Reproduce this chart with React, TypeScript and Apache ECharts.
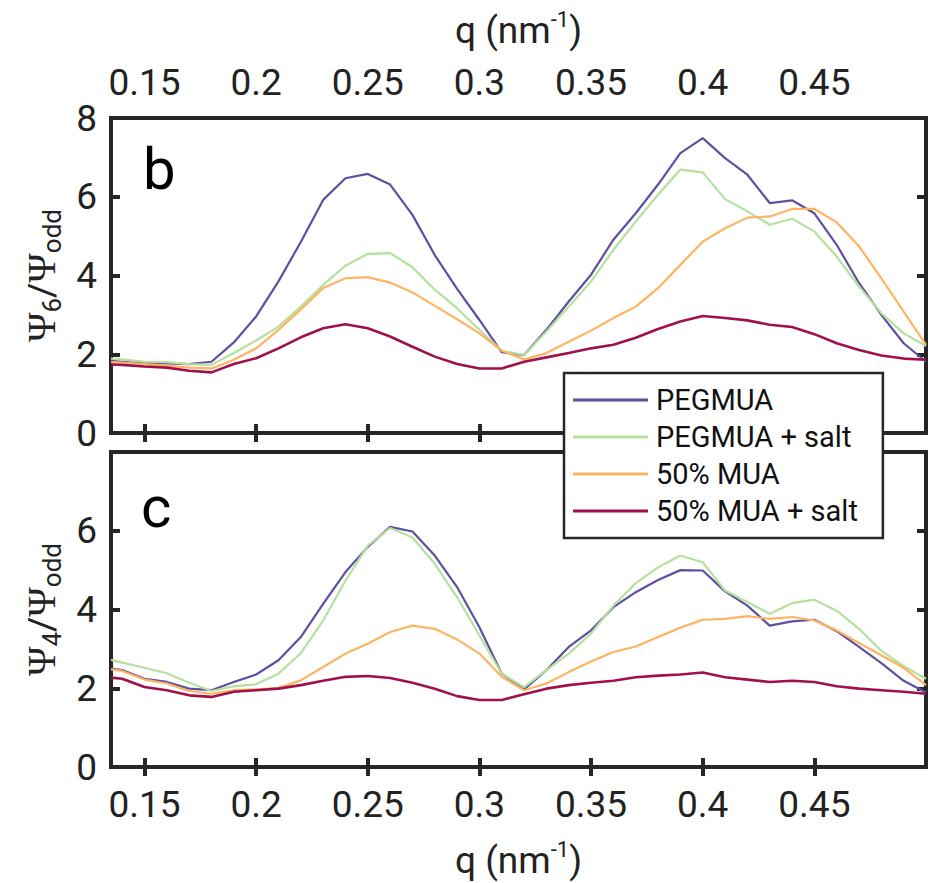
import React, { useEffect, useRef } from "react";
import * as echarts from "echarts";

// q values (nm^-1)
const q = [0.135, 0.14, 0.15, 0.16, 0.17, 0.18, 0.19, 0.2, 0.21, 0.22, 0.23, 0.24, 0.25, 0.26, 0.27, 0.28, 0.29, 0.3, 0.31,
  0.32, 0.33, 0.34, 0.35, 0.36, 0.37, 0.38, 0.39, 0.4, 0.41, 0.42, 0.43, 0.44, 0.45, 0.46, 0.47, 0.48, 0.49, 0.5];

const seriesNames = ["PEGMUA", "PEGMUA + salt", "50% MUA", "50% MUA + salt"];
const colors = ["#5E4FA2", "#B5E09E", "#FDB462", "#A0104A"];

// Panel b: Psi6 / Psi_odd
const b_pegmua = [1.83, 1.81, 1.77, 1.77, 1.75, 1.81, 2.3, 2.96, 3.85, 4.85, 5.92, 6.47, 6.58, 6.31, 5.54, 4.52, 3.66, 2.87, 2.05,
  1.98, 2.62, 3.34, 4.02, 4.91, 5.58, 6.31, 7.11, 7.49, 6.98, 6.56, 5.84, 5.91, 5.58, 4.78, 3.81, 3.0, 2.28, 1.81];
const b_pegmuaSalt = [1.89, 1.87, 1.81, 1.8, 1.75, 1.73, 2.03, 2.35, 2.7, 3.21, 3.76, 4.25, 4.55, 4.57, 4.21, 3.64, 3.17, 2.62, 2.09,
  1.98, 2.58, 3.21, 3.85, 4.65, 5.37, 6.05, 6.69, 6.62, 5.94, 5.63, 5.29, 5.44, 5.12, 4.48, 3.72, 3.04, 2.53, 2.21];
const b_mua = [1.8, 1.79, 1.75, 1.71, 1.66, 1.64, 1.86, 2.15, 2.62, 3.14, 3.68, 3.93, 3.96, 3.82, 3.57, 3.23, 2.89, 2.53, 2.09,
  1.87, 2.03, 2.32, 2.6, 2.92, 3.21, 3.68, 4.27, 4.86, 5.2, 5.47, 5.5, 5.69, 5.69, 5.35, 4.74, 3.93, 3.08, 2.24];
const b_muaSalt = [1.74, 1.73, 1.69, 1.66, 1.58, 1.54, 1.75, 1.9, 2.15, 2.43, 2.66, 2.76, 2.66, 2.45, 2.19, 1.94, 1.75, 1.64, 1.64,
  1.81, 1.92, 2.03, 2.15, 2.24, 2.42, 2.64, 2.83, 2.97, 2.92, 2.86, 2.75, 2.69, 2.51, 2.28, 2.11, 1.97, 1.89, 1.86];

// Panel c: Psi4 / Psi_odd
const c_pegmua = [2.5, 2.46, 2.24, 2.16, 1.99, 1.95, 2.16, 2.35, 2.71, 3.3, 4.14, 4.95, 5.59, 6.1, 5.98, 5.37, 4.57, 3.55, 2.37,
  1.97, 2.46, 3.05, 3.47, 4.06, 4.44, 4.75, 5.0, 4.99, 4.46, 4.1, 3.59, 3.7, 3.74, 3.45, 3.05, 2.64, 2.19, 1.89];
const c_pegmuaSalt = [2.72, 2.65, 2.52, 2.38, 2.14, 1.93, 2.05, 2.1, 2.37, 2.89, 3.72, 4.73, 5.62, 6.07, 5.83, 5.16, 4.31, 3.34, 2.37,
  2.03, 2.46, 2.88, 3.39, 4.1, 4.67, 5.07, 5.37, 5.2, 4.48, 4.19, 3.89, 4.16, 4.25, 3.97, 3.51, 2.95, 2.56, 2.24];
const c_mua = [2.48, 2.44, 2.22, 2.12, 1.93, 1.86, 1.95, 1.97, 2.01, 2.2, 2.54, 2.88, 3.13, 3.43, 3.59, 3.51, 3.24, 2.88, 2.29,
  1.95, 2.12, 2.41, 2.68, 2.92, 3.06, 3.3, 3.54, 3.74, 3.76, 3.83, 3.76, 3.81, 3.72, 3.47, 3.15, 2.84, 2.52, 2.08];
const c_muaSalt = [2.27, 2.24, 2.03, 1.95, 1.82, 1.78, 1.91, 1.95, 1.99, 2.08, 2.19, 2.29, 2.31, 2.26, 2.14, 1.99, 1.8, 1.7, 1.7,
  1.85, 1.99, 2.08, 2.14, 2.19, 2.28, 2.32, 2.35, 2.4, 2.28, 2.22, 2.16, 2.19, 2.16, 2.05, 1.99, 1.95, 1.91, 1.86];

const xTicks = [0.15, 0.2, 0.25, 0.3, 0.35, 0.4, 0.45];
const yTicksTop = [0, 2, 4, 6, 8];
const yTicksBottom = [0, 2, 4, 6];
const xTitle = ["q (nm", "-1", ")"];
const yTitleB = ["Ψ", "6", "/", "Ψ", "odd"];
const yTitleC = ["Ψ", "4", "/", "Ψ", "odd"];
const panelLetters = ["b", "c"];

const FRAME = "#262626";
const FONT = "Roboto";

export default function App() {
  const ref = useRef<HTMLDivElement>(null);

  useEffect(() => {
    if (!ref.current) return;
    const chart = echarts.init(ref.current, null, { renderer: "svg" });

    const tickStyle = { show: true, inside: true, length: 9, lineStyle: { color: FRAME, width: 4 } };
    const xTickCfg = { ...tickStyle, customValues: xTicks };
    const labelStyle = { fontSize: 37, fontFamily: FONT, color: "#222" };

    const xTitleRich = `{a|${xTitle[0]}}{s|${xTitle[1]}}{a|${xTitle[2]}}`;
    const mkYTitle = (t: string[]) => `{p|${t[0]}}{s|${t[1]}}{n|${t[2]}}{p|${t[3]}}{s|${t[4]}}`;
    const xNameStyle = {
      rich: {
        a: { fontSize: 37, fontFamily: FONT, color: "#222" },
        s: { fontSize: 22, fontFamily: FONT, color: "#222", padding: [0, 0, 22, 0] },
      },
    };
    const yNameStyle = {
      rich: {
        p: { fontSize: 40, fontFamily: "Liberation Serif", color: "#222" },
        n: { fontSize: 37, fontFamily: FONT, color: "#222" },
        s: { fontSize: 26, fontFamily: FONT, color: "#222", padding: [22, 0, 0, 0] },
      },
    };

    const grids = [
      { left: 111, top: 118, width: 815, height: 315 },
      { left: 111, top: 452, width: 815, height: 315 },
    ].map((g) => ({ ...g, show: true, borderColor: FRAME, borderWidth: 4, backgroundColor: "transparent", containLabel: false }));

    const baseX = {
      type: "value" as const,
      min: 0.135,
      max: 0.5,
      axisLine: { show: false },
      splitLine: { show: false },
      axisTick: xTickCfg,
    };
    const xAxes = [
      {
        ...baseX, gridIndex: 0, position: "top",
        axisLabel: { show: true, customValues: xTicks, margin: 17, ...labelStyle, formatter: (v: number) => String(+v.toFixed(2)) },
        name: xTitleRich, nameLocation: "middle", nameGap: 66, nameTextStyle: xNameStyle,
      },
      { ...baseX, gridIndex: 0, position: "bottom", axisLabel: { show: false } },
      { ...baseX, gridIndex: 1, position: "top", axisLabel: { show: false } },
      {
        ...baseX, gridIndex: 1, position: "bottom",
        axisLabel: { show: true, customValues: xTicks, margin: 19, ...labelStyle, formatter: (v: number) => String(+v.toFixed(2)) },
        name: xTitleRich, nameLocation: "middle", nameGap: 71, nameTextStyle: xNameStyle,
      },
    ];

    const baseY = {
      type: "value" as const,
      min: 0,
      max: 8,
      interval: 2,
      axisLine: { show: false },
      splitLine: { show: false },
      axisTick: tickStyle,
    };
    const yAxes = [
      {
        ...baseY, gridIndex: 0, position: "left",
        axisLabel: { show: true, margin: 14, ...labelStyle, customValues: yTicksTop },
        name: mkYTitle(yTitleB), nameLocation: "middle", nameRotate: 90, nameGap: 44, nameTextStyle: yNameStyle,
      },
      { ...baseY, gridIndex: 0, position: "right", axisLabel: { show: false } },
      {
        ...baseY, gridIndex: 1, position: "left",
        axisLabel: { show: true, margin: 14, ...labelStyle, customValues: yTicksBottom },
        name: mkYTitle(yTitleC), nameLocation: "middle", nameRotate: 90, nameGap: 44, nameTextStyle: yNameStyle,
      },
      { ...baseY, gridIndex: 1, position: "right", axisLabel: { show: false } },
    ];

    const panelData = [
      [b_pegmua, b_pegmuaSalt, b_mua, b_muaSalt],
      [c_pegmua, c_pegmuaSalt, c_mua, c_muaSalt],
    ];
    const series: any[] = [];
    panelData.forEach((arrs, p) => {
      arrs.forEach((arr, i) => {
        series.push({
          type: "line",
          name: seriesNames[i],
          xAxisIndex: p === 0 ? 0 : 3,
          yAxisIndex: p === 0 ? 0 : 2,
          data: q.map((x, k) => [x, arr[k]]),
          showSymbol: false,
          symbol: "none",
          lineStyle: { color: colors[i], width: i === 3 ? 2.6 : 2.2 },
          itemStyle: { color: colors[i] },
          z: 2,
        });
      });
    });

    chart.setOption({
      animation: false,
      backgroundColor: "#fff",
      grid: grids,
      xAxis: xAxes,
      yAxis: yAxes,
      series,
      legend: {
        data: seriesNames,
        orient: "vertical",
        left: 564,
        top: 373,
        backgroundColor: "#fff",
        borderColor: FRAME,
        borderWidth: 2.5,
        borderRadius: 0,
        padding: [12, 25, 12, 9],
        itemWidth: 75,
        itemHeight: 3,
        itemGap: 7,
        icon: "rect",
        selectedMode: false,
        textStyle: { fontSize: 29, fontFamily: FONT, color: "#111", lineHeight: 30, padding: [0, 0, 0, 3] },
        z: 10,
      },
      graphic: [
        { type: "text", left: 143, top: 140, z: 5, style: { text: panelLetters[0], fontSize: 58, fontFamily: FONT, fill: "#000" } },
        { type: "text", left: 141, top: 478, z: 5, style: { text: panelLetters[1], fontSize: 58, fontFamily: FONT, fill: "#000" } },
      ],
    });

    return () => chart.dispose();
  }, []);

  return <div ref={ref} style={{ position: "fixed", left: 0, top: 0, width: 940, height: 883 }} />;
}
